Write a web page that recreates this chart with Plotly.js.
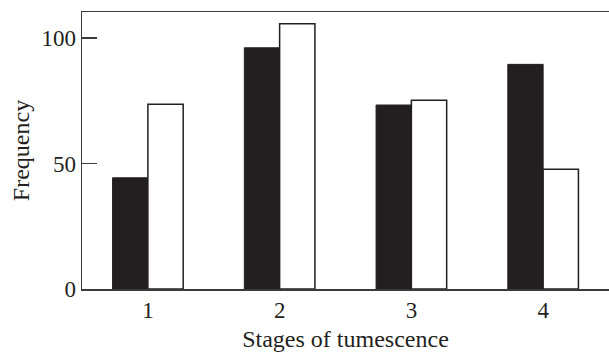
<!DOCTYPE html>
<html>
<head>
<meta charset="utf-8">
<script src="https://cdn.plot.ly/plotly-3.0.1.min.js"></script>
<style>html,body{margin:0;padding:0;background:#fff;}#chart{width:609px;height:352px;}</style>
</head>
<body>
<div id="chart"></div>
<script>
const stages = [1, 2, 3, 4];
const tickLabels = ["1", "2", "3", "4"];
const blackValues = [44.3, 96.1, 73.3, 89.5];
const whiteValues = [73.6, 105.7, 75.2, 47.7];
const xTitle = "Stages of tumescence";
const yTitle = "Frequency";

const fontFam = "Liberation Serif";
const txtCol = "#231f20";
const lineCol = "#3a3a3a";

const data = [
  {type: "bar", x: stages, y: blackValues, marker: {color: "#231f20", line: {color: "#231f20", width: 1}}, hoverinfo: "none"},
  {type: "bar", x: stages, y: whiteValues, marker: {color: "#ffffff", line: {color: "#231f20", width: 1.5}}, hoverinfo: "none"}
];

const layout = {
  width: 609, height: 352,
  margin: {l: 82, r: 0, t: 12, b: 63},
  paper_bgcolor: "#fff", plot_bgcolor: "#fff",
  showlegend: false,
  barmode: "group", bargap: 0.464, bargroupgap: 0,
  font: {family: fontFam, color: txtCol, size: 23},
  xaxis: {
    range: [0.5, 4.5], tickvals: stages, ticktext: tickLabels,
    showgrid: false, zeroline: false, showline: true, mirror: true,
    linecolor: lineCol, linewidth: 1.5, ticks: "",
    tickfont: {family: fontFam, size: 23, color: txtCol},
    title: {text: xTitle, font: {family: fontFam, size: 24, color: txtCol}, standoff: 15}
  },
  yaxis: {
    range: [0, 110.36], tickvals: [0, 50, 100],
    showgrid: false, zeroline: false, showline: true,
    linecolor: lineCol, linewidth: 1.5, ticks: "inside", ticklen: 15, tickwidth: 1.5, tickcolor: lineCol,
    tickfont: {family: fontFam, size: 23, color: txtCol},
    title: {text: yTitle, font: {family: fontFam, size: 24, color: txtCol}, standoff: 5}
  }
};

Plotly.newPlot("chart", data, layout, {staticPlot: true, displayModeBar: false});
</script>
</body>
</html>
